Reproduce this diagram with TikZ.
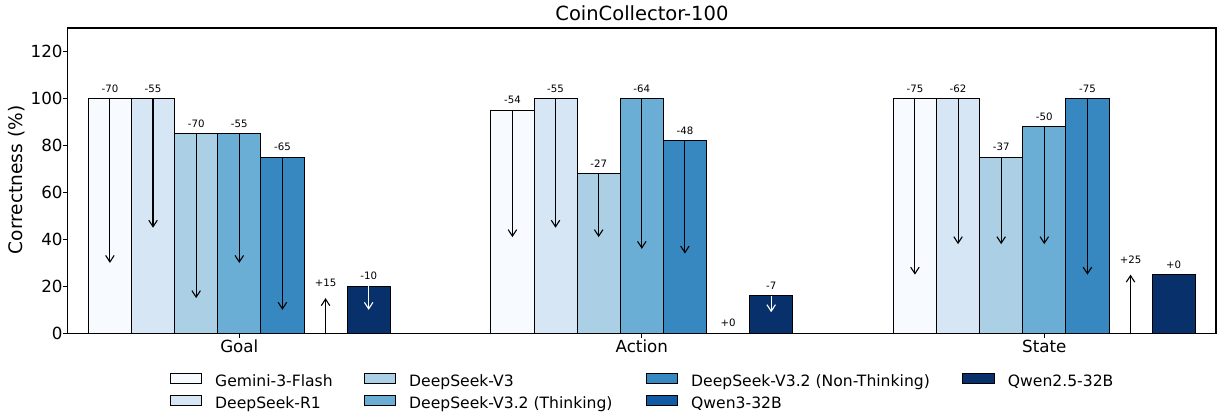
\documentclass[tikz,border=0pt]{standalone}
\usepackage{fontspec}
\setmainfont{DejaVu Sans}
\usetikzlibrary{arrows.meta}
\definecolor{cA}{HTML}{F7FBFF}
\definecolor{cB}{HTML}{D6E6F4}
\definecolor{cC}{HTML}{ABD0E6}
\definecolor{cD}{HTML}{6AAED6}
\definecolor{cE}{HTML}{3787C0}
\definecolor{cF}{HTML}{105BA4}
\definecolor{cG}{HTML}{08306B}
\begin{document}
\begin{tikzpicture}[x=1pt,y=-1pt,
  barstyle/.style={draw=black,line width=0.9pt},
  deltaarrow/.style={line width=1.1pt,-{Straight Barb[length=6.5pt,width=8.5pt]}},
  annot/.style={font=\fontsize{10.2}{12}\selectfont,inner sep=0pt},
  ticklab/.style={font=\fontsize{16.7}{20}\selectfont,inner sep=0pt},
  legtext/.style={font=\fontsize{15.6}{18}\selectfont,inner sep=0pt,anchor=base west},
  legpatch/.style={draw=black,line width=0.9pt},
  frame/.style={draw=black,line width=1.1pt}]
\useasboundingbox (0,0) rectangle (1221,416);
\fill[white] (0,0) rectangle (1221,416);

% title
\node[font=\fontsize{19.5}{23}\selectfont,inner sep=0pt,anchor=base] (title) at (641.9,20.7) {CoinCollector-100};

% bars, arrows and value labels in data coordinates
\begin{scope}[shift={(239.3,333.3)},x=402.5pt,y=2.346pt]
  \foreach \g/\i/\v/\d/\t/\fc/\ac in {
    0/0/100/-70/-70/cA/black, 0/1/100/-55/-55/cB/black, 0/2/85/-70/-70/cC/black,
    0/3/85/-55/-55/cD/black, 0/4/75/-65/-65/cE/black, 0/5/0/15/+15/cF/black,
    0/6/20/-10/-10/cG/white,
    1/0/95/-54/-54/cA/black, 1/1/100/-55/-55/cB/black, 1/2/68/-27/-27/cC/black,
    1/3/100/-64/-64/cD/black, 1/4/82/-48/-48/cE/black, 1/5/0/0/+0/cF/black,
    1/6/16/-7/-7/cG/white,
    2/0/100/-75/-75/cA/black, 2/1/100/-62/-62/cB/black, 2/2/75/-37/-37/cC/black,
    2/3/88/-50/-50/cD/black, 2/4/100/-75/-75/cE/black, 2/5/0/25/+25/cF/black,
    2/6/25/0/+0/cG/white}{
    \pgfmathsetmacro\xl{\g-0.375+\i*0.75/7}
    \pgfmathsetmacro\xr{\xl+0.75/7}
    \pgfmathsetmacro\xc{\xl+0.375/7}
    \pgfmathsetmacro\ve{\v+\d}
    \ifdim\v pt>0pt
      \draw[barstyle,fill=\fc] (\xl,0) rectangle (\xr,\v);
    \fi
    \ifdim\d pt<0pt
      \draw[deltaarrow,draw=\ac] (\xc,\v) -- (\xc,\ve);
      \node[annot] (lab-\g-\i) at (\xc,\v+4.39) {\t};
    \else
      \ifdim\d pt>0pt
        \draw[deltaarrow,draw=\ac] (\xc,\v) -- (\xc,\ve);
        \node[annot] (lab-\g-\i) at (\xc,\ve+6.31) {\t};
      \else
        \node[annot] (lab-\g-\i) at (\xc,\v+4.39) {\t};
      \fi
    \fi
  }
\end{scope}

% axes frame
\draw[frame] (67.7,28) rectangle (1216,333.3);

% y ticks
\foreach \yv in {0,20,...,120}{
  \pgfmathsetmacro\yp{333.3-2.346*\yv}
  \draw[line width=1.1pt] (63.2,\yp) -- (67.7,\yp);
  \node[ticklab,anchor=east] (yt-\yv) at (62.8,\yp) {\yv};
}
% x ticks
\foreach \xc/\nm in {239.3/Goal,641.8/Action,1044.3/State}{
  \draw[line width=1.1pt] (\xc,333.3) -- (\xc,338.2);
  \node[ticklab,anchor=base] (xt-\nm) at (\xc,352.3) {\nm};
}

% y label
\node[font=\fontsize{18.6}{22}\selectfont,inner sep=0pt,rotate=90] (ylab) at (16.3,180) {Correctness (\%)};

% legend
\foreach \px/\row/\fc/\txt in {
  170/0/cA/Gemini-3-Flash, 170/1/cB/DeepSeek-R1,
  364/0/cC/DeepSeek-V3, 364/1/cD/DeepSeek-V3.2 (Thinking),
  646/0/cE/DeepSeek-V3.2 (Non-Thinking), 646/1/cF/Qwen3-32B,
  962.7/0/cG/Qwen2.5-32B}{
  \pgfmathsetmacro\pt{373.5+22*\row}
  \pgfmathsetmacro\pb{\pt+10}
  \pgfmathsetmacro\tb{386.3+22*\row}
  \pgfmathsetmacro\tx{\px+45}
  \draw[legpatch,fill=\fc] (\px,\pt) rectangle (\px+31.5,\pb);
  \node[legtext] (leg-\px-\row) at (\tx,\tb) {\txt};
}
\end{tikzpicture}
\end{document}
